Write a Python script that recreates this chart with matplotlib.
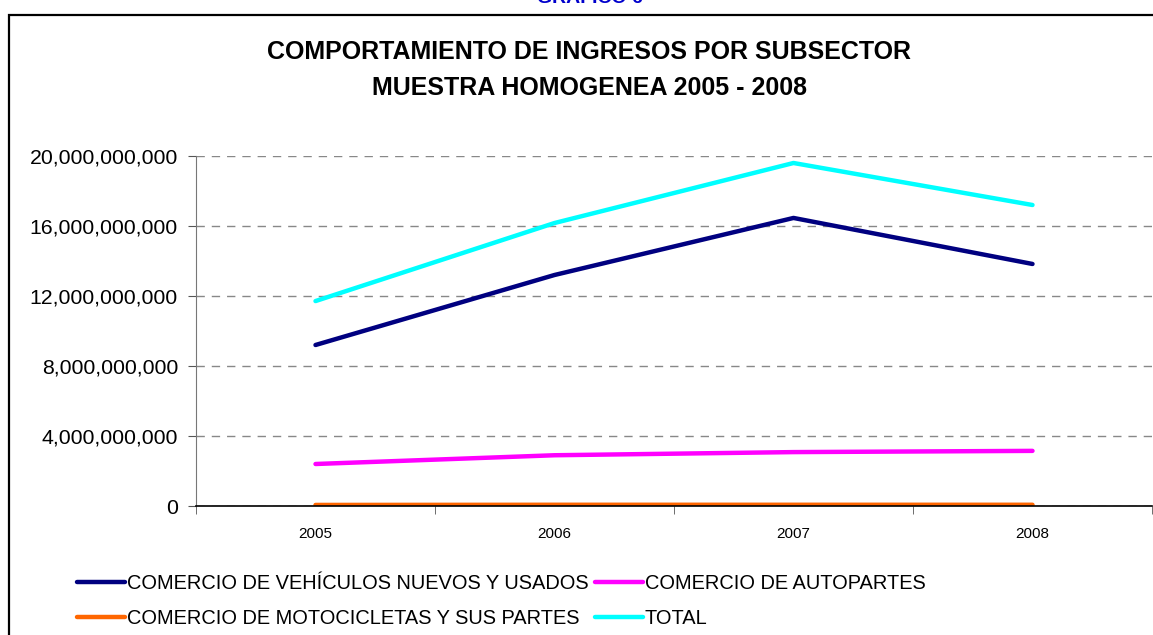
import matplotlib
matplotlib.use("Agg")
import matplotlib.pyplot as plt
from matplotlib.ticker import FuncFormatter, FixedLocator
from matplotlib.patches import Rectangle

years = ["2005", "2006", "2007", "2008"]
vehiculos = [9.20e9, 13.20e9, 16.46e9, 13.83e9]
autopartes = [2.40e9, 2.90e9, 3.08e9, 3.15e9]
motos = [0.06e9, 0.07e9, 0.07e9, 0.07e9]
total = [11.71e9, 16.17e9, 19.60e9, 17.20e9]

series_names = ["COMERCIO DE VEHÍCULOS NUEVOS Y USADOS", "COMERCIO DE AUTOPARTES",
                "COMERCIO DE MOTOCICLETAS Y SUS PARTES", "TOTAL"]
colors = ["#000080", "#FF00FF", "#FF6600", "#00FFFF"]
yticks = [0, 4e9, 8e9, 12e9, 16e9, 20e9]

plt.rcParams['font.family'] = ['Liberation Sans', 'DejaVu Sans']

W, H = 1153, 635
fig = plt.figure(figsize=(W / 100, H / 100), dpi=100)

# outer chart border
fig.patches.append(Rectangle((9 / W, -0.05), (1160 - 9) / W, 1 - 15 / H + 0.05,
                             transform=fig.transFigure, fill=False,
                             edgecolor='black', linewidth=1.6))

fig.text(590 / W, 1 - 3 / H, "GRAFICO 6", color="#0000CC", fontsize=14,
         fontweight='bold', ha='center', va='baseline')
fig.text(589 / W, 1 - 52 / H, "COMPORTAMIENTO DE INGRESOS POR SUBSECTOR",
         fontsize=18, fontweight='bold', ha='center', va='center')
fig.text(589 / W, 1 - 88 / H, "MUESTRA HOMOGENEA 2005 - 2008",
         fontsize=18, fontweight='bold', ha='center', va='center')

ax = fig.add_axes([196 / W, 1 - 506 / H, (1152 - 196) / W, (506 - 156) / H])
x = list(range(len(years)))
data = [vehiculos, autopartes, motos, total]
handles = []
for vals, name, c in zip(data, series_names, colors):
    h, = ax.plot(x, vals, color=c, linewidth=3.2, solid_capstyle='round', label=name)
    handles.append(h)

ax.set_xlim(-0.5, len(years) - 0.5)
ax.set_ylim(0, 20e9)
ax.yaxis.set_major_locator(FixedLocator(yticks))
ax.yaxis.set_major_formatter(FuncFormatter(lambda v, p: f"{v:,.0f}"))
ax.set_xticks(x)
ax.set_xticklabels(years, fontsize=11)
ax.set_xticks([i + 0.5 for i in range(-1, len(years))], minor=True)
ax.tick_params(axis='x', which='major', length=0, pad=15)
ax.tick_params(axis='x', which='minor', length=6, direction='out', color='#555555')
ax.tick_params(axis='y', labelsize=15.3, length=6, direction='out', color='#555555', pad=7)
ax.grid(axis='y', linestyle=(0, (6, 5)), color='#888888', linewidth=1.0)
ax.set_axisbelow(True)
for s in ['top', 'right']:
    ax.spines[s].set_visible(False)
ax.spines['left'].set_color('#777777')
ax.spines['bottom'].set_color('black')
ax.spines['bottom'].set_linewidth(1.2)

order = [0, 2, 1, 3]
leg = fig.legend([handles[i] for i in order], [series_names[i] for i in order],
                 ncol=2, loc='upper left', bbox_to_anchor=(77 / W, 1 - 574 / H),
                 frameon=False, fontsize=14.4, handlelength=2.4, handletextpad=0.1,
                 columnspacing=0.3, labelspacing=0.82, borderaxespad=0, borderpad=0)

fig.savefig("out.png", dpi=100)
